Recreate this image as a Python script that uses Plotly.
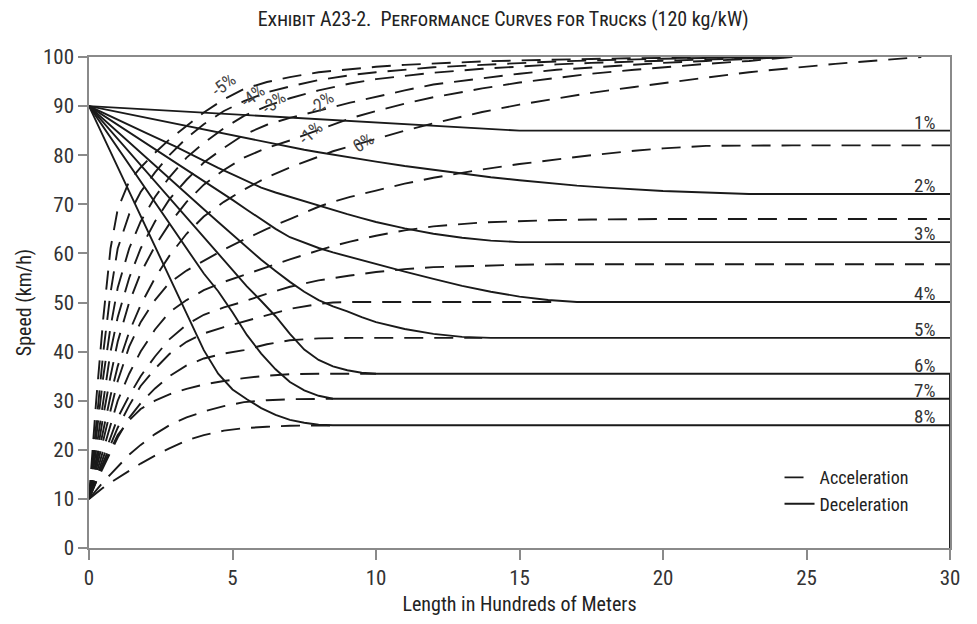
import plotly.graph_objects as go

FONT = "Liberation Sans Narrow, Arial Narrow, Roboto Condensed, DejaVu Sans Condensed, sans-serif"
INK = "#1a1a1a"
AXIS_GREY = "#8a8a8a"

# ---------------- acceleration curves (dashed), start at 10 km/h ----------------
ACC_DIST = [0, 0.25, 0.5, 0.75, 1.0, 1.4, 1.8, 2.3, 2.8, 3.4, 4.0, 4.7, 5.4, 6.2, 7.0,
            8.0, 8.5, 9.1, 10.0, 11.0, 12.0, 13.7, 15.0, 16.3, 17.5, 19.0, 20.0, 21.5,
            23.0, 24.5, 26.0, 27.5, 29.0, 30.0]
N = None
ACC_M5 = [10, 30, 47, 61, 69, 74.7, 77.5, 80.5, 83.2, 86, 88.7, 91.4, 93.5, 94.9, 95.9,
          96.9, 97.2, 97.6, 98.0, 98.4, 98.7, 99.1, 99.3, 99.5, 99.6, 99.75, 99.8, 99.88,
          99.95, 100, N, N, N, N]
ACC_M4 = [10, 25, 40, 52, 61, 68, 72.5, 76.5, 80, 83.5, 86.3, 89, 91, 92.8, 94,
          95.3, 95.8, 96.3, 96.9, 97.4, 97.9, 98.4, 98.8, 99.1, 99.3, 99.55, 99.65, 99.8,
          99.9, 100, N, N, N, N]
ACC_M3 = [10, 22, 35, 45, 53, 61, 66.5, 71.5, 75.5, 79.5, 82.5, 85.5, 88, 90, 91.6,
          93.2, 93.9, 94.6, 95.5, 96.2, 96.8, 97.6, 98.1, 98.5, 98.8, 99.1, 99.3, 99.5,
          99.75, 100, N, N, N, N]
ACC_M2 = [10, 20, 31, 40, 47, 55, 61, 66.5, 71, 75, 78.5, 81.5, 84.2, 86.2, 87.6,
          89.0, 89.8, 90.7, 91.9, 93.2, 94.4, 95.7, 96.6, 97.4, 97.9, 98.4, 98.8, 99.2,
          99.6, 100, N, N, N, N]
ACC_M1 = [10, 18, 27, 35, 42, 50, 56, 61.5, 66, 70.5, 74, 77, 79.5, 81.5, 83,
          85.2, 86.3, 87.5, 89.0, 90.5, 91.8, 93.6, 94.8, 95.8, 96.6, 97.4, 97.9, 98.6,
          99.2, 100, N, N, N, N]
ACC_0 = [10, 17, 24, 31, 37, 44, 49.5, 55, 59.5, 64, 67.5, 70.5, 73, 75.5, 77.5,
         79.8, 80.8, 81.8, 83.3, 85, 86.5, 88.8, 90.3, 91.6, 92.7, 93.9, 94.7, 95.8,
         96.9, 97.8, 98.6, 99.3, 100, N]
ACC_1 = [10, 16, 22, 28, 34, 41, 46, 50.5, 54, 56.5, 58.5, 60.8, 62.8, 65, 67,
         69.5, 70.5, 71.5, 72.8, 74.2, 75.4, 77.1, 78.2, 79.2, 80.0, 80.9, 81.4, 81.9,
         82, 82, 82, 82, 82, 82]
ACC_2 = [10, 15, 20, 25, 30, 35.5, 40, 44.5, 48, 50.5, 52.5, 54.2, 55.6, 57.3, 58.8,
         60.6, 61.5, 62.4, 63.6, 64.7, 65.5, 66.3, 66.6, 66.8, 66.9, 67, 67, 67,
         67, 67, 67, 67, 67, 67]
ACC_3 = [10, 14.5, 18.5, 22.5, 26.5, 31, 35, 39, 42.5, 45.5, 47.5, 49, 50.2, 51.8, 53.2,
         54.5, 55, 55.5, 56.2, 56.8, 57.2, 57.5, 57.7, 57.8, 57.8, 57.8, 57.8, 57.8,
         57.8, 57.8, 57.8, 57.8, 57.8, 57.8]
ACC_4 = [10, 14, 17.5, 21, 24.5, 29, 33, 36.5, 39.5, 42, 43.7, 45, 46.1, 47.5, 48.7,
         49.7, 50, 50.1, 50.1, 50.1, 50.1, 50.1, 50.1, 50.1, N, N, N, N,
         N, N, N, N, N, N]
ACC_5 = [10, 13.5, 16.5, 19.5, 22.5, 26.5, 29.5, 32.5, 35, 37.2, 38.6, 39.6, 40.3, 41.5, 42.3,
         42.7, 42.8, 42.8, 42.8, 42.8, 42.8, 42.8, N, N, N, N, N, N,
         N, N, N, N, N, N]
ACC_6 = [10, 13.5, 17, 20, 23, 26, 28.3, 30, 31.3, 32.4, 33.3, 34, 34.6, 35.1, 35.4,
         35.5, 35.5, 35.5, 35.5, N, N, N, N, N, N, N, N, N,
         N, N, N, N, N, N]
ACC_7 = [10, 11.8, 13.5, 15, 16.5, 19, 21, 23.2, 25, 26.6, 27.8, 28.9, 29.7, 30.1, 30.3,
         30.4, 30.4, N, N, N, N, N, N, N, N, N, N, N,
         N, N, N, N, N, N]
ACC_8 = [10, 11.2, 12.3, 13.3, 14.2, 15.8, 17.2, 18.8, 20.3, 21.9, 23, 23.9, 24.4, 24.7, 24.9,
         24.95, 24.95, N, N, N, N, N, N, N, N, N, N, N,
         N, N, N, N, N, N]
ACC_SERIES = [ACC_M5, ACC_M4, ACC_M3, ACC_M2, ACC_M1, ACC_0,
              ACC_1, ACC_2, ACC_3, ACC_4, ACC_5, ACC_6, ACC_7, ACC_8]

# ---------------- deceleration curves (solid), start at 90 km/h ----------------
DEC_DIST = [0, 1, 2, 3, 3.5, 4, 4.5, 5, 5.5, 6, 6.5, 7, 7.5, 8, 8.5, 9, 9.5, 10,
            11, 12, 13, 14, 15, 16, 17, 18, 20, 22, 23, 25, 30, 30]
DEC_1 = [90, 89.67, 89.33, 89, 88.83, 88.67, 88.5, 88.33, 88.17, 88, 87.83, 87.67, 87.5,
         87.33, 87.17, 87, 86.83, 86.67, 86.33, 86, 85.67, 85.33, 85, 85, 85, 85, 85, 85,
         85, 85, 85, 85]
DEC_2 = [90, 88.8, 87.6, 86.4, 85.8, 85.2, 84.6, 84, 83.4, 82.8, 82.2, 81.7, 81.1, 80.6,
         80.1, 79.6, 79.1, 78.7, 77.8, 77, 76.2, 75.5, 74.9, 74.3, 73.8, 73.4, 72.7, 72.3,
         72.1, 72.1, 72.1, 72.1]
DEC_3 = [90, 87.2, 84.5, 81.8, 80.3, 78.8, 77.4, 76.1, 74.7, 73.4, 72.4, 71.5, 70.6, 69.7,
         68.8, 68, 67.2, 66.4, 65.1, 64, 63.2, 62.6, 62.3, 62.3, 62.3, 62.3, 62.3, 62.3,
         62.3, 62.3, 62.3, 62.3]
DEC_4 = [90, 86.2, 82.4, 78.6, 76.7, 74.8, 72.9, 70.9, 68.9, 66.9, 65, 63.3, 62.2, 61.1,
         60.2, 59.4, 58.6, 57.8, 56.3, 54.8, 53.4, 52.2, 51.2, 50.5, 50.1, 50.1, 50.1, 50.1,
         50.1, 50.1, 50.1, 50.1]
DEC_5 = [90, 84.7, 79.5, 74.2, 71.6, 69, 66.4, 63.8, 61.2, 58.7, 56.4, 54.2, 52.2, 50.5,
         49.2, 48.2, 47, 46, 44.6, 43.6, 43, 42.8, 42.8, 42.8, 42.8, 42.8, 42.8, 42.8,
         42.8, 42.8, 42.8, 42.8]
DEC_6 = [90, 83.3, 76.6, 69.9, 66.5, 63.2, 59.8, 56.5, 53.3, 50.3, 47.2, 43.6, 40.4, 38.3,
         37, 36.2, 35.7, 35.5, 35.5, 35.5, 35.5, 35.5, 35.5, 35.5, 35.5, 35.5, 35.5, 35.5,
         35.5, 35.5, 35.5, 0]
DEC_7 = [90, 81.5, 73, 64.4, 60.1, 55.9, 52.3, 48, 43.4, 39.6, 36.4, 33.8, 32.1, 31,
         30.4, 30.4, 30.4, 30.4, 30.4, 30.4, 30.4, 30.4, 30.4, 30.4, 30.4, 30.4, 30.4, 30.4,
         30.4, 30.4, 30.4, 30.4]
DEC_8 = [90, 77.6, 65.2, 53, 46.5, 40.3, 35.5, 32.3, 30.3, 28.5, 27.1, 26.1, 25.5, 25.1,
         25, 25, 25, 25, 25, 25, 25, 25, 25, 25, 25, 25, 25, 25,
         25, 25, 25, 25]
DEC_SERIES = [DEC_1, DEC_2, DEC_3, DEC_4, DEC_5, DEC_6, DEC_7, DEC_8]
DEC_LABELS = ["1%", "2%", "3%", "4%", "5%", "6%", "7%", "8%"]
DEC_LABEL_X = 29.1

# labels of the downgrade acceleration curves: text, x, y, angle
DOWN_LABELS = ["-5%", "-4%", "-3%", "-2%", "-1%", "0%"]
DOWN_LABEL_X = [4.68, 5.7, 6.42, 8.1, 7.72, 9.53]
DOWN_LABEL_Y = [94.4, 92.2, 90.8, 90.8, 84.6, 82.6]
DOWN_LABEL_ANGLE = [-38, -38, -38, -38, -42, -32]

TITLE_MAIN = "Exhibit A23-2.&nbsp;&nbsp;Performance Curves for Trucks"
TITLE_TAIL = "(120 kg/kW)"

fig = go.Figure()
for i, ys in enumerate(ACC_SERIES):
    fig.add_trace(go.Scatter(
        x=ACC_DIST, y=ys, mode="lines",
        line=dict(color=INK, width=1.9, dash="19px,11px"),
        name="Acceleration", legendgroup="acc", showlegend=(i == 0),
        hoverinfo="skip"))
for i, ys in enumerate(DEC_SERIES):
    fig.add_trace(go.Scatter(
        x=DEC_DIST, y=ys, mode="lines",
        line=dict(color=INK, width=1.9),
        name="Deceleration", legendgroup="dec", showlegend=(i == 0),
        hoverinfo="skip"))

for lab, ys in zip(DEC_LABELS, DEC_SERIES):
    fig.add_annotation(x=DEC_LABEL_X, y=ys[-2], text=lab, showarrow=False,
                       xanchor="center", yanchor="bottom", yshift=-5,
                       font=dict(family=FONT, size=19, color="#333"))
for lab, x, y, a in zip(DOWN_LABELS, DOWN_LABEL_X, DOWN_LABEL_Y, DOWN_LABEL_ANGLE):
    fig.add_annotation(x=x, y=y, text=lab, showarrow=False, textangle=a,
                       xanchor="center", yanchor="middle",
                       font=dict(family=FONT, size=18, color="#444"))

title = (f"<span style='font-variant:small-caps'>{TITLE_MAIN}</span> {TITLE_TAIL}")

fig.update_layout(
    width=969, height=616,
    margin=dict(l=81, r=27, t=49, b=76),
    paper_bgcolor="white", plot_bgcolor="white",
    font=dict(family=FONT, size=18, color="#222"),
    title=dict(text=title, x=0.511, xref="container", xanchor="center",
               y=0.982, yref="container", yanchor="middle",
               font=dict(family=FONT, size=20, color="#222")),
    showlegend=True,
    legend=dict(x=0.802, y=0.181, xanchor="left", yanchor="top",
                bgcolor="rgba(0,0,0,0)", font=dict(family=FONT, size=18),
                tracegroupgap=0),
    xaxis=dict(range=[0, 30], tickvals=[0, 5, 10, 15, 20, 25, 30],
               ticks="outside", ticklen=10, tickcolor=AXIS_GREY, tickwidth=1.5,
               showline=True, linecolor=AXIS_GREY, linewidth=1.5, mirror=True,
               showgrid=False, zeroline=False,
               title=dict(text="Length in Hundreds of Meters", standoff=8,
                          font=dict(size=20)),
               tickfont=dict(size=21, color="#333")),
    yaxis=dict(range=[0, 100], dtick=10,
               ticks="outside", ticklen=9, tickcolor=AXIS_GREY, tickwidth=1.5,
               showline=True, linecolor=AXIS_GREY, linewidth=1.5, mirror=True,
               showgrid=False, zeroline=False,
               title=dict(text="Speed (km/h)", standoff=6, font=dict(size=20)),
               tickfont=dict(size=21, color="#333")),
)

fig.write_html("out.html")
